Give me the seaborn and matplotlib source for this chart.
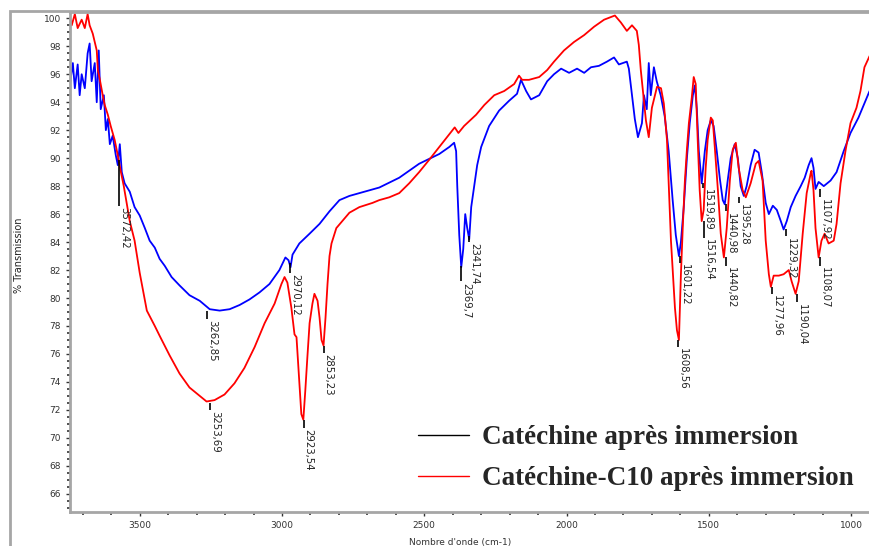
import numpy as np
import pandas as pd
import matplotlib
matplotlib.use("Agg")
import matplotlib.pyplot as plt
import seaborn as sns
from matplotlib.lines import Line2D
from matplotlib.patches import Rectangle

# ── DATA ───────────────────────────────────────────────────────────────────────
# Catéchine après immersion (blue)
wn_blue = [3746, 3735, 3728, 3718, 3711, 3704, 3693, 3683, 3676, 3669, 3658, 3651,
           3644, 3637, 3626, 3619, 3612, 3605, 3595, 3584, 3577, 3570, 3563, 3553,
           3535, 3518, 3500, 3482, 3465, 3447, 3430, 3412, 3388, 3360, 3325, 3289,
           3254, 3219, 3184, 3149, 3114, 3079, 3044, 3009, 2988, 2977, 2970, 2963,
           2939, 2903, 2868, 2833, 2798, 2763, 2728, 2658, 2588, 2518, 2447, 2412,
           2395, 2388, 2384, 2377, 2370, 2363, 2356, 2349, 2342, 2335, 2328, 2314,
           2300, 2272, 2237, 2202, 2174, 2160, 2142, 2125, 2096, 2068, 2044, 2019,
           1991, 1963, 1938, 1914, 1886, 1858, 1833, 1816, 1788, 1781, 1770, 1760,
           1749, 1742, 1735, 1728, 1718, 1711, 1704, 1693, 1683, 1669, 1655, 1641,
           1627, 1616, 1605, 1598, 1588, 1577, 1567, 1556, 1549, 1542, 1535, 1525,
           1514, 1504, 1493, 1483, 1472, 1461, 1451, 1444, 1433, 1423, 1409, 1398,
           1388, 1377, 1367, 1353, 1339, 1325, 1314, 1300, 1289, 1275, 1261, 1247,
           1237, 1226, 1212, 1195, 1177, 1163, 1149, 1139, 1132, 1125, 1114, 1096,
           1072, 1051, 1026, 1002, 974, 935]
t_blue = [95.2, 96.8, 95.0, 96.7, 94.5, 96.0, 95.0, 97.5, 98.2, 95.5, 96.8, 94.0,
          97.7, 93.5, 94.5, 92.0, 92.8, 91.0, 91.6, 90.2, 89.5, 91.0, 89.0, 88.2,
          87.6, 86.5, 85.9, 85.0, 84.1, 83.6, 82.8, 82.3, 81.5, 80.9, 80.2, 79.8,
          79.2, 79.1, 79.2, 79.5, 79.9, 80.4, 81.0, 82.0, 82.9, 82.7, 82.2, 83.1,
          83.9, 84.6, 85.3, 86.2, 87.0, 87.3, 87.5, 87.9, 88.6, 89.6, 90.3, 90.8,
          91.1, 90.5, 88.0, 84.5, 82.2, 83.5, 86.0, 85.0, 84.2, 86.5, 87.5, 89.5,
          90.8, 92.3, 93.4, 94.1, 94.6, 95.6, 94.8, 94.2, 94.5, 95.5, 96.0, 96.4,
          96.1, 96.4, 96.1, 96.5, 96.6, 96.9, 97.2, 96.7, 96.9, 96.4, 94.5, 92.8,
          91.5, 92.0, 92.5, 94.5, 93.5, 96.8, 94.5, 96.5, 95.5, 94.5, 93.0, 90.5,
          87.0, 84.5, 83.0, 84.0, 86.5, 90.0, 92.5, 94.5, 95.2, 93.5, 90.5, 88.2,
          90.5, 92.0, 92.7, 92.3, 90.5, 88.5, 87.0, 86.7, 88.5, 90.0, 91.0, 90.0,
          88.0, 87.3, 88.0, 89.5, 90.6, 90.4, 89.0, 86.8, 86.0, 86.6, 86.3, 85.5,
          84.9, 85.5, 86.5, 87.3, 88.0, 88.6, 89.5, 90.0, 89.3, 87.8, 88.3, 88.0,
          88.4, 89.0, 90.5, 91.8, 92.9, 94.8]

# Catéchine-C10 après immersion (red)
wn_red = [3746, 3739, 3728, 3718, 3704, 3693, 3683, 3676, 3665, 3651, 3647, 3640,
          3630, 3623, 3612, 3602, 3588, 3577, 3567, 3556, 3535, 3518, 3500, 3475,
          3447, 3430, 3395, 3360, 3325, 3289, 3265, 3237, 3202, 3167, 3132, 3096,
          3061, 3026, 3002, 2991, 2981, 2967, 2956, 2949, 2939, 2932, 2925, 2918,
          2911, 2903, 2893, 2886, 2875, 2868, 2861, 2854, 2847, 2840, 2833, 2826,
          2809, 2788, 2763, 2728, 2682, 2658, 2623, 2588, 2553, 2518, 2482, 2447,
          2412, 2393, 2380, 2360, 2318, 2289, 2254, 2219, 2184, 2167, 2156, 2132,
          2096, 2068, 2044, 2009, 1974, 1938, 1903, 1868, 1830, 1809, 1788, 1770,
          1753, 1746, 1739, 1728, 1721, 1711, 1700, 1682, 1668, 1658, 1647, 1640,
          1633, 1626, 1619, 1612, 1605, 1598, 1591, 1584, 1577, 1570, 1560, 1553,
          1546, 1539, 1532, 1525, 1518, 1511, 1504, 1493, 1486, 1479, 1468, 1458,
          1447, 1437, 1426, 1416, 1405, 1395, 1381, 1370, 1353, 1335, 1325, 1311,
          1300, 1289, 1282, 1272, 1254, 1237, 1219, 1209, 1195, 1184, 1170, 1156,
          1142, 1139, 1132, 1125, 1114, 1104, 1093, 1079, 1061, 1051, 1037, 1019,
          1002, 981, 967, 953, 935]
t_red = [100.1, 99.5, 100.3, 99.3, 99.9, 99.3, 100.3, 99.5, 98.9, 97.7, 96.3, 95.6,
         94.5, 93.8, 93.1, 92.3, 91.3, 90.2, 89.1, 88.0, 85.5, 84.1, 81.8, 79.1,
         78.0, 77.3, 75.9, 74.6, 73.6, 73.0, 72.6, 72.7, 73.1, 73.9, 75.0, 76.5,
         78.2, 79.6, 81.0, 81.5, 81.1, 79.3, 77.4, 77.2, 73.9, 71.7, 71.3, 73.4,
         75.7, 78.2, 79.6, 80.3, 79.8, 78.6, 77.0, 76.6, 78.6, 81.0, 83.0, 83.9,
         85.0, 85.5, 86.1, 86.5, 86.8, 87.0, 87.2, 87.5, 88.2, 89.0, 89.9, 90.8,
         91.7, 92.2, 91.8, 92.3, 93.1, 93.8, 94.5, 94.8, 95.3, 95.9, 95.6, 95.6,
         95.8, 96.3, 96.9, 97.7, 98.3, 98.8, 99.4, 99.9, 100.2, 99.7, 99.1, 99.5,
         99.1, 98.1, 96.3, 94.1, 92.7, 91.5, 93.6, 95.1, 95.0, 93.9, 91.3, 87.7,
         84.1, 81.7, 79.3, 77.7, 77.0, 81.7, 85.3, 88.4, 90.6, 92.5, 94.3, 95.8,
         95.3, 91.3, 87.7, 85.5, 86.3, 89.3, 91.3, 92.9, 92.7, 90.8, 87.7, 84.6,
         82.9, 85.0, 88.4, 90.6, 91.1, 89.3, 87.7, 87.2, 88.2, 89.6, 89.8, 88.4,
         84.1, 81.7, 80.8, 81.6, 81.6, 81.7, 82.0, 81.2, 80.3, 81.2, 84.6, 87.5,
         88.9, 89.1, 87.7, 85.0, 82.9, 84.1, 84.6, 83.9, 84.1, 85.3, 88.2, 90.6,
         92.5, 93.6, 94.8, 96.5, 97.3]

# peak labels: wavenumber, top of tick, bottom of tick, text
peak_wn = [3572.42, 3262.85, 3253.69, 2970.12, 2923.54, 2853.23, 2369.7, 2341.74,
           1608.56, 1601.22, 1519.89, 1516.54, 1440.98, 1440.82, 1395.28, 1277.96,
           1229.32, 1190.04, 1108.07, 1107.92]
peak_top = [89.9, 79.1, 72.5, 82.5, 71.3, 76.6, 82.3, 84.4, 77.0, 83.0, 88.2, 85.5,
            86.7, 82.9, 87.2, 80.8, 84.9, 80.3, 82.9, 87.8]
peak_bot = [86.6, 78.5, 72.0, 81.8, 70.7, 76.1, 81.2, 84.0, 76.5, 82.5, 87.9, 84.3,
            86.2, 82.3, 86.8, 80.3, 84.4, 79.7, 82.3, 87.2]
peak_txt = ["3572,42", "3262,85", "3253,69", "2970,12", "2923,54", "2853,23", "2369,7",
            "2341,74", "1608,56", "1601,22", "1519,89", "1516,54", "1440,98", "1440,82",
            "1395,28", "1277,96", "1229,32", "1190,04", "1108,07", "1107,92"]

LEGEND = ["Catéchine après immersion", "Catéchine-C10 après immersion"]
GRAY = "#a6a6a6"

# ── PLOT ───────────────────────────────────────────────────────────────────────
sns.set_style("white")
plt.rcParams["font.family"] = ["DejaVu Sans"]

fig = plt.figure(figsize=(8.69, 5.46), dpi=100)
ax = fig.add_axes([70 / 869, 1 - 512 / 546, 799 / 869, (512 - 12) / 546])

blue = pd.DataFrame({"wn": wn_blue, "t": t_blue})
red = pd.DataFrame({"wn": wn_red, "t": t_red})
sns.lineplot(data=blue, x="wn", y="t", ax=ax, color="#0000ff", lw=1.3,
             sort=False, estimator=None)
sns.lineplot(data=red, x="wn", y="t", ax=ax, color="#ff0000", lw=1.3,
             sort=False, estimator=None)

for w, top, bot, txt in zip(peak_wn, peak_top, peak_bot, peak_txt):
    ax.vlines(w, bot, top, color="black", lw=1.2)
    ax.text(w, bot - 0.1, txt, rotation=270, ha="left", va="top",
            fontsize=7.3, color="#222222")

ax.set_xlim(3745, 937)
ax.set_ylim(64.7, 100.45)
ax.set_yticks(np.arange(66, 101, 2))
ax.set_yticks(np.arange(65, 100.5, 0.5), minor=True)
ax.set_xticks([3500, 3000, 2500, 2000, 1500, 1000])
ax.set_xticks(np.arange(1000, 3800, 100), minor=True)
ax.tick_params(axis="both", which="major", labelsize=6.5, length=3, width=1,
               color="#333333", labelcolor="#333333", direction="out")
ax.tick_params(axis="both", which="minor", length=2, width=1.2, color="#333333")
ax.tick_params(left=True, bottom=True, which="both")
ax.set_xlabel("Nombre d'onde (cm-1)", fontsize=6.5, color="#333333")
ax.set_ylabel("% Transmission", fontsize=7, color="#222222")
ax.xaxis.set_label_coords(0.488, -0.052)
ax.yaxis.set_label_coords(-0.057, 0.514)

for side in ["left", "bottom", "top"]:
    ax.spines[side].set_color(GRAY)
    ax.spines[side].set_linewidth(2)
ax.spines["right"].set_visible(False)

# outer frame of the original figure
fig.patches.append(Rectangle((10 / 869, -0.1), 1.2, 1.1 - 11 / 546, fill=False,
                             edgecolor=GRAY, lw=2, transform=fig.transFigure))

handles = [Line2D([], [], color="black", lw=1), Line2D([], [], color="red", lw=1)]
fig.legend(handles, LEGEND, loc="upper left", bbox_to_anchor=(418 / 869, 1 - 425 / 546),
           frameon=False, handlelength=1.9, handletextpad=0.45, labelspacing=0.6,
           borderpad=0, borderaxespad=0,
           prop={"family": "Liberation Serif", "weight": "bold", "size": 19.5})

fig.savefig("out.png", dpi=100)
